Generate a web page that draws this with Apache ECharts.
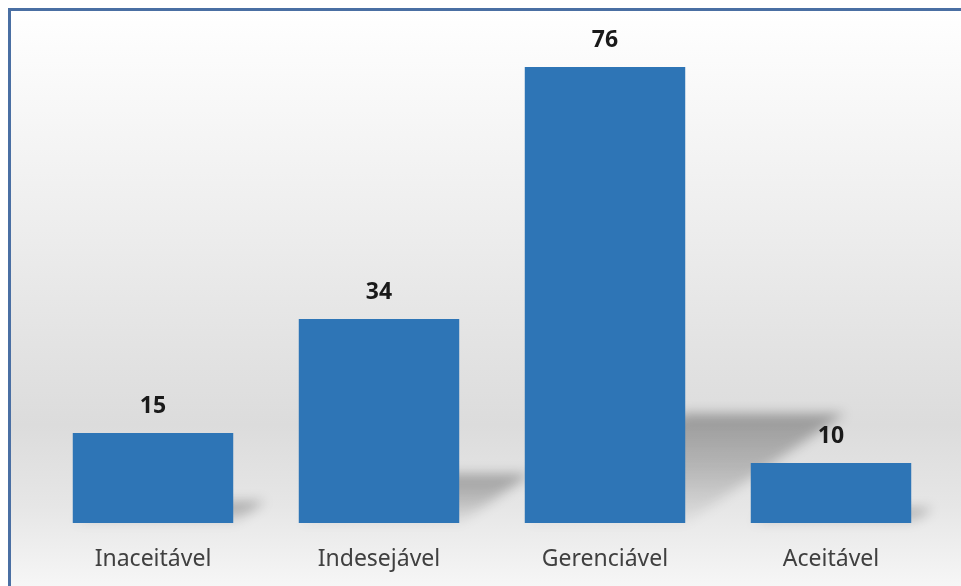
<!DOCTYPE html>
<html>
<head>
<meta charset="utf-8">
<script src="https://cdn.jsdelivr.net/npm/echarts@6/dist/echarts.min.js"></script>
<style>
html,body{margin:0;padding:0;width:961px;height:586px;overflow:hidden;background:#fff;}
.frame{
    position:absolute;left:8px;top:8px;right:0;bottom:0;
    border-left:3px solid #4a6fa3;
    border-top:3px solid #4a6fa3;
    background:linear-gradient(to bottom,#ffffff 0%,#f1f1f1 30%,#dcdcdc 72%,#e6e6e6 86%,#f6f6f6 100%);
}
#chart{position:absolute;left:0;top:0;right:0;bottom:0;}
/* camada das sombras (zlevel 0) desfocada */
#chart canvas:first-child{filter:blur(6px);}
</style>
</head>
<body>
<div class="frame"><div id="chart"></div></div>
<script>
// categorias e valores
var categorias = ['Inaceitável', 'Indesejável', 'Gerenciável', 'Aceitável'];
var valores = [15, 34, 76, 10];

var chart = echarts.init(document.getElementById('chart'));

// sombra em perspectiva atrás de cada barra
function renderSombra(params, api) {
    var idx = api.value(0);
    var val = api.value(1);
    var base = api.coord([idx, 0]);
    var topo = api.coord([idx, val]);
    var largura = api.size([1, 0])[0] * 0.71;
    var h = base[1] - topo[1];
    var dx = h * 0.35, dy = h * 0.24;
    var x0 = base[0] - largura / 2, x1 = base[0] + largura / 2;
    return {
        type: 'polygon',
        shape: {
            points: [[x0, base[1]], [x1, base[1]], [x1 + dx, base[1] - dy], [x0 + dx, base[1] - dy]]
        },
        style: {
            fill: new echarts.graphic.LinearGradient(0, 0, 0, 1, [
                { offset: 0, color: 'rgba(0,0,0,0.30)' },
                { offset: 0.5, color: 'rgba(0,0,0,0.19)' },
                { offset: 1, color: 'rgba(0,0,0,0.03)' }
            ])
        }
    };
}

var option = {
    backgroundColor: 'transparent',
    animation: false,
    grid: {
        left: 29,
        right: 17,
        top: 32,
        bottom: 63
    },
    xAxis: {
        type: 'category',
        data: categorias,
        zlevel: 1,
        axisLine: { show: false },
        axisTick: { show: false },
        axisLabel: {
            margin: 25,
            fontSize: 23,
            fontFamily: 'Noto Sans',
            color: '#404040'
        }
    },
    yAxis: {
        type: 'value',
        min: 0,
        max: 80,
        show: false,
        zlevel: 1,
        splitLine: { show: false }
    },
    series: [
        {
            type: 'custom',
            renderItem: renderSombra,
            data: valores.map(function (v, i) { return [i, v]; }),
            zlevel: 0,
            silent: true
        },
        {
            type: 'bar',
            data: valores,
            barCategoryGap: '29%',
            zlevel: 1,
            itemStyle: { color: '#2e75b6' },
            label: {
                show: true,
                position: 'top',
                distance: 15,
                fontSize: 23,
                fontWeight: 'bold',
                fontFamily: 'Noto Sans',
                color: '#1a1a1a'
            }
        }
    ]
};

chart.setOption(option);
</script>
</body>
</html>
